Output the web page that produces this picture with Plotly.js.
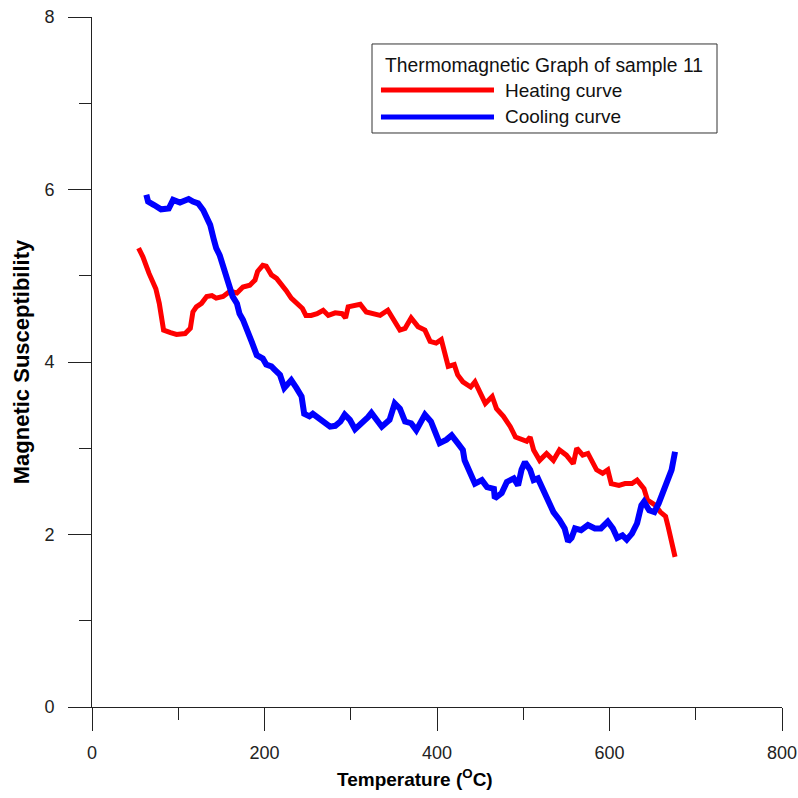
<!DOCTYPE html>
<html>
<head>
<meta charset="utf-8">
<script src="https://cdn.plot.ly/plotly-3.0.1.min.js"></script>
<style>html,body{margin:0;padding:0;background:#fff;}#chart{width:798px;height:798px;}</style>
</head>
<body>
<div id="chart"></div>
<script>
// Heating curve (red)
const heatT = [54,59,66,70,74,78,81,83,91,98,108,114,117,121,127,133,139,144,152,160,168,175,183,189,192,198,202,208,214,219,225,231,237,244,248,254,261,268,274,282,290,294,297,311,318,328,334,343,349,357,363,370,378,386,392,399,405,409,413,420,424,430,439,444,450,456,464,469,477,485,491,498,504,508,512,519,527,535,542,550,558,562,569,575,579,585,592,598,602,611,618,626,632,636,640,644,649,653,659,665,668,672,676];
const heatChi = [5.32,5.22,5.03,4.93,4.85,4.68,4.53,4.37,4.34,4.32,4.33,4.39,4.58,4.64,4.68,4.76,4.77,4.74,4.76,4.82,4.80,4.87,4.89,4.95,5.05,5.12,5.11,5.01,4.97,4.91,4.83,4.74,4.68,4.62,4.54,4.54,4.56,4.60,4.54,4.57,4.56,4.51,4.64,4.67,4.58,4.56,4.54,4.60,4.49,4.37,4.39,4.51,4.41,4.37,4.24,4.22,4.26,4.10,3.95,3.97,3.85,3.77,3.71,3.77,3.64,3.52,3.60,3.46,3.37,3.25,3.13,3.10,3.08,3.13,2.98,2.86,2.94,2.86,2.98,2.92,2.82,3.00,2.92,2.94,2.86,2.75,2.71,2.75,2.59,2.57,2.59,2.59,2.63,2.59,2.53,2.40,2.36,2.34,2.26,2.21,2.09,1.94,1.74];

// Cooling curve (blue)
const coolT = [63,65,72,80,89,94,102,112,117,123,129,133,137,141,144,148,152,156,159,163,168,171,175,179,185,191,198,202,208,212,218,223,231,237,243,246,252,256,263,270,276,282,288,293,299,305,313,320,324,336,345,351,357,363,370,376,386,393,397,403,411,417,424,430,432,439,444,452,458,466,467,475,481,489,494,498,502,508,512,517,523,529,535,542,548,552,556,560,567,575,583,590,598,604,609,615,620,626,632,637,640,646,652,657,663,668,672,676];
const coolChi = [5.94,5.86,5.82,5.77,5.78,5.88,5.85,5.89,5.86,5.84,5.76,5.68,5.59,5.43,5.32,5.24,5.10,4.99,4.87,4.76,4.68,4.56,4.49,4.37,4.24,4.08,4.04,3.97,3.95,3.91,3.85,3.70,3.79,3.70,3.60,3.40,3.37,3.40,3.35,3.29,3.25,3.26,3.31,3.39,3.33,3.22,3.29,3.36,3.41,3.25,3.33,3.52,3.46,3.31,3.29,3.21,3.39,3.31,3.21,3.06,3.10,3.15,3.06,2.98,2.86,2.71,2.59,2.63,2.55,2.53,2.42,2.48,2.61,2.65,2.57,2.75,2.84,2.75,2.63,2.65,2.53,2.38,2.26,2.17,2.07,1.92,1.96,2.07,2.05,2.11,2.07,2.07,2.15,2.07,1.96,1.99,1.94,2.01,2.13,2.34,2.38,2.28,2.26,2.36,2.53,2.63,2.75,2.96];

const xTicks = [0,200,400,600,800];
const yTicks = [0,2,4,6,8];
const legendTitle = "Thermomagnetic Graph of sample 11";
const heatName = "Heating curve";
const coolName = "Cooling curve";
const xTitle = "Temperature (<sup>O</sup>C)";
const yTitle = "Magnetic Susceptibility";

const FONT = "Liberation Sans, Arial, sans-serif";
const AX = "#222";

const traces = [
  {x: heatT, y: heatChi, mode: "lines", name: heatName, line: {color: "#ff0000", width: 5}, showlegend: false},
  {x: coolT, y: coolChi, mode: "lines", name: coolName, line: {color: "#0000ff", width: 6}, showlegend: false}
];

const layout = {
  width: 798, height: 798,
  margin: {l: 92, r: 16, t: 17, b: 91},
  paper_bgcolor: "#fff", plot_bgcolor: "#fff",
  font: {family: FONT, size: 18, color: "#222"},
  showlegend: false,
  xaxis: {
    range: [0, 800], tickmode: "array", tickvals: xTicks, ticktext: xTicks.map(String),
    ticks: "outside", ticklen: 23, tickwidth: 1, tickcolor: AX,
    minor: {dtick: 100, tick0: 0, ticks: "outside", ticklen: 12, tickwidth: 1, tickcolor: AX},
    showline: true, linecolor: AX, linewidth: 1,
    showgrid: false, zeroline: false, ticklabelstandoff: 6, ticklabeloverflow: "allow",
    tickfont: {family: FONT, size: 18, color: "#222"}
  },
  yaxis: {
    range: [0, 8], tickmode: "array", tickvals: yTicks, ticktext: yTicks.map(v => v + "\u00a0\u00a0"),
    ticks: "outside", ticklen: 23, tickwidth: 1, tickcolor: AX,
    minor: {dtick: 1, tick0: 0, ticks: "outside", ticklen: 12, tickwidth: 1, tickcolor: AX},
    showline: true, linecolor: AX, linewidth: 1,
    showgrid: false, zeroline: false, ticklabeloverflow: "allow",
    tickfont: {family: FONT, size: 18, color: "#222"},
    title: {text: "<b>" + yTitle + "</b>", font: {family: FONT, size: 22, color: "#000"}, standoff: 8}
  },
  annotations: [
    {text: "<b>" + xTitle + "</b>", xref: "paper", yref: "paper", x: 0.468, y: -0.103,
     xanchor: "center", yanchor: "middle", showarrow: false, font: {family: FONT, size: 19, color: "#000"}},
    {text: legendTitle, xref: "paper", yref: "paper", x: 0.4217, y: 0.929,
     xanchor: "left", yanchor: "middle", showarrow: false, font: {family: FONT, size: 19.3, color: "#111"}},
    {text: heatName, xref: "paper", yref: "paper", x: 0.5957, y: 0.8942,
     xanchor: "left", yanchor: "middle", showarrow: false, font: {family: FONT, size: 19, color: "#111"}},
    {text: coolName, xref: "paper", yref: "paper", x: 0.5957, y: 0.8551,
     xanchor: "left", yanchor: "middle", showarrow: false, font: {family: FONT, size: 19, color: "#111"}}
  ],
  shapes: [
    {type: "rect", xref: "paper", yref: "paper", x0: 0.4058, x1: 0.9058, y0: 0.8319, y1: 0.9609,
     line: {color: "#333", width: 1}, fillcolor: "#fff", layer: "above"},
    {type: "line", xref: "paper", yref: "paper", x0: 0.4188, x1: 0.5826, y0: 0.8942, y1: 0.8942,
     line: {color: "#ff0000", width: 5}, layer: "above"},
    {type: "line", xref: "paper", yref: "paper", x0: 0.4188, x1: 0.5826, y0: 0.8551, y1: 0.8551,
     line: {color: "#0000ff", width: 5}, layer: "above"}
  ]
};

Plotly.newPlot("chart", traces, layout, {displayModeBar: false, staticPlot: true});
</script>
</body>
</html>
